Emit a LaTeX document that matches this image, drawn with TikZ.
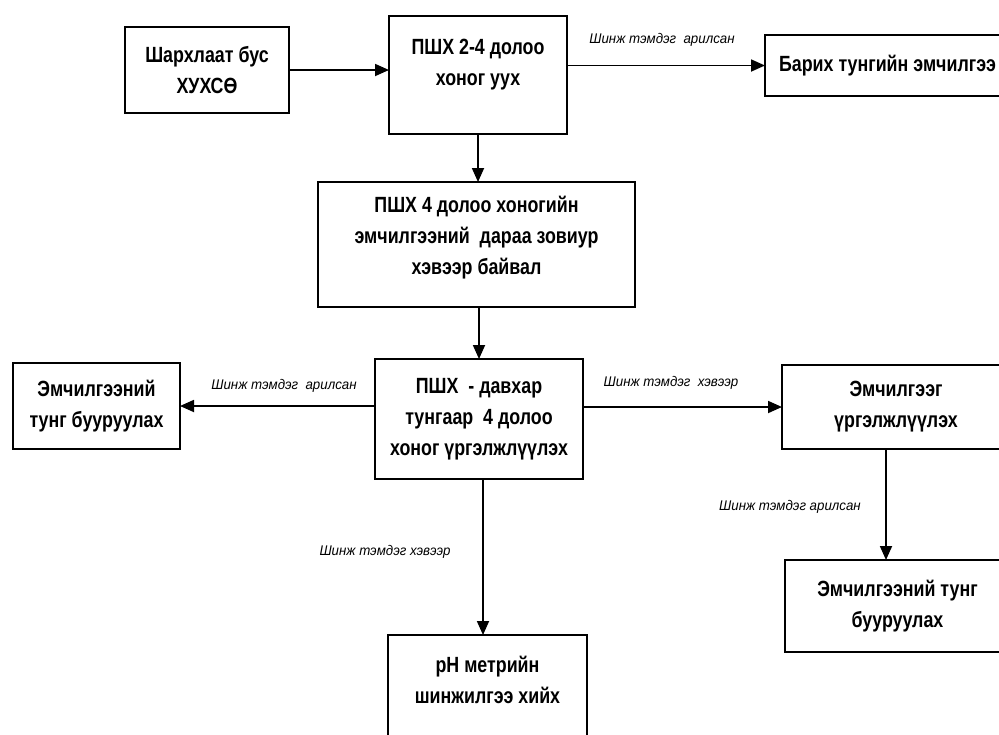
\documentclass[tikz,border=0pt]{standalone}
\usepackage{fontspec}
\setmainfont{Liberation Sans}[FakeStretch=0.81]
\newfontfamily\lblfont{Liberation Sans}[FakeStretch=0.95]
\usetikzlibrary{arrows.meta,calc}
\tikzset{
  box/.style={draw=black, line width=2.6pt, fill=white, inner sep=0pt, outer sep=0pt,
    align=center, font=\fontsize{22}{31}\selectfont\bfseries},
  conn/.style={line width=1.8pt, -{Triangle[length=14pt,width=12pt]}},
  lbl/.style={font=\lblfont\itshape\fontsize{14}{16}\selectfont, inner sep=0pt},
}
\begin{document}
\begin{tikzpicture}[x=1pt,y=-1pt]
\useasboundingbox[fill=white] (0,0) rectangle (999,734);
\clip (0,0) rectangle (999,734);
% boxes
\node[box, minimum width=164pt, minimum height=86pt] (a) at (207,70) {Шархлаат бус\\ХУХСӨ};
\node[box, minimum width=178pt, minimum height=118pt] (b) at (478,75) {ПШХ 2-4 долоо\\хоног уух\\[-5pt]\mbox{}};
\node[box, minimum width=245pt, minimum height=61pt] (c) at (887.5,65.5) {Барих тунгийн эмчилгээ};
\node[box, minimum width=317pt, minimum height=125pt] (d) at (476.5,244.5) {ПШХ 4 долоо хоногийн\\эмчилгээний~ дараа зовиур\\хэвээр байвал\\[-13pt]\mbox{}};
\node[box, minimum width=208pt, minimum height=120pt] (e) at (479,419) {ПШХ~ - давхар\\тунгаар~ 4 долоо\\хоног үргэлжлүүлэх};
\node[box, minimum width=167pt, minimum height=86pt] (f) at (96.5,406) {Эмчилгээний\\тунг бууруулах};
\node[box, minimum width=228pt, minimum height=84pt] (g) at (896,407) {Эмчилгээг\\үргэлжлүүлэх};
\node[box, minimum width=225pt, minimum height=92pt] (h) at (897.5,606) {Эмчилгээний тунг\\бууруулах};
\node[box, minimum width=199pt, minimum height=125pt] (i) at (487.5,697.5) {pH метрийн\\шинжилгээ хийх\\[4pt]\mbox{}};
% connectors
\draw[conn] (a.east) -- (a.east -| b.west);
\draw[conn] (c.west -| b.east) -- (c.west);
\draw[conn] (b.south) -- (b.south |- d.north);
\draw[conn] (e.north |- d.south) -- (e.north);
\draw[conn] (f.east -| e.west) -- (f.east);
\draw[conn] (g.west -| e.east) -- (g.west);
\coordinate (gs) at ($(g.south west)+(104,0)$);
\draw[conn] (gs) -- (gs |- h.north);
\coordinate (es) at ($(e.south)+(4,0)$);
\draw[conn] (es) -- (es |- i.north);
% labels
\node[lbl] (l1) at (662,40) {Шинж тэмдэг~ арилсан};
\node[lbl] (l2) at (284,386) {Шинж тэмдэг~ арилсан};
\node[lbl] (l3) at (671,383) {Шинж тэмдэг~ хэвээр};
\node[lbl] (l4) at (790,507) {Шинж тэмдэг арилсан};
\node[lbl] (l5) at (385,552) {Шинж тэмдэг хэвээр};
\end{tikzpicture}
\end{document}
